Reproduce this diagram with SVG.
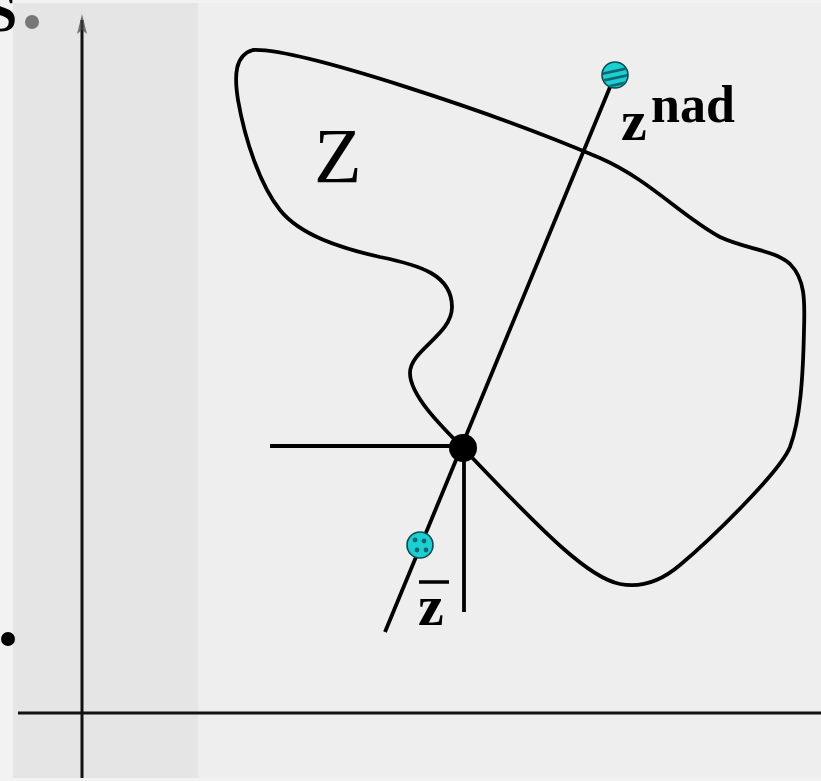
<svg xmlns="http://www.w3.org/2000/svg" width="821" height="781" viewBox="0 0 821 781">
<style>
.ax{stroke:#111;stroke-width:3;fill:none}
.ln{stroke:#000;stroke-width:3.8;fill:none;stroke-linecap:butt}
.lbl{font-family:"Liberation Serif","Times New Roman",serif;fill:#000}
.cy{fill:#1ccfd2;stroke:#0a4a50;stroke-width:1.6}
.st{stroke:#0d6670;stroke-width:2.6}
</style>
<defs>
<clipPath id="c1"><circle cx="615" cy="75" r="12"/></clipPath>
<clipPath id="c2"><circle cx="420" cy="545" r="12"/></clipPath>
</defs>
<rect x="0" y="0" width="821" height="781" fill="#f2f2f2"/>
<rect x="13" y="3" width="808" height="775" fill="#eeeeee"/>
<rect x="13" y="3" width="185" height="775" fill="#e5e5e5"/>
<g id="decor">
<text class="lbl" x="-14" y="31" font-size="56" font-weight="bold">S</text>
<circle cx="32" cy="22" r="7" fill="#777"/>
<circle cx="8" cy="639" r="7" fill="#000"/>
</g>
<g id="axes">
<line class="ax" x1="82" y1="778" x2="82" y2="20"/>
<path d="M82,14 L77,34 L82,30 L87,34 Z" fill="#444" opacity="0.7"/>
<line class="ax" x1="18" y1="713" x2="821" y2="713"/>
</g>
<g id="region-Z">
<path class="ln" d="M253,50 C300,48 500,115 600,158 C650,180 680,215 720,237 C745,249 775,250 790,264 C805,279 805,300 804,330 C803,380 800,420 790,447 C780,472 710,540 680,565 C660,582 640,588 620,584 C590,578 550,540 463,448 C440,425 410,395 410,373 C410,350 452,335 452,307 C452,275 420,265 380,257 C340,248 300,235 280,210 C260,185 245,140 238,100 C234,75 235,55 253,50 Z"/>
<text class="lbl" x="314" y="182" font-size="78">Z</text>
</g>
<g id="connectors">
<line class="ln" x1="385" y1="632" x2="615" y2="75"/>
<line class="ln" x1="270" y1="446" x2="463" y2="446"/>
<line class="ln" x1="464" y1="448" x2="464" y2="612"/>
</g>
<g id="ideal">
<circle cx="463" cy="448" r="14" fill="#000"/>
</g>
<g id="nadir">
<circle class="cy" cx="615" cy="75" r="13"/>
<g clip-path="url(#c1)">
<line class="st" x1="601" y1="74" x2="629" y2="68"/>
<line class="st" x1="601" y1="81" x2="629" y2="75"/>
<line class="st" x1="601" y1="88" x2="629" y2="82"/>
</g>
<text class="lbl" x="621" y="140" font-size="58" font-weight="bold">z</text>
<text class="lbl" x="651" y="122" font-size="52" font-weight="bold">nad</text>
</g>
<g id="zbar">
<circle class="cy" cx="420" cy="545" r="13"/>
<g clip-path="url(#c2)">
<circle cx="415" cy="540" r="2.4" fill="#0d6670"/>
<circle cx="424" cy="541" r="2.4" fill="#0d6670"/>
<circle cx="417" cy="550" r="2.4" fill="#0d6670"/>
<circle cx="426" cy="550" r="2.4" fill="#0d6670"/>
</g>
<line x1="419" y1="582" x2="449" y2="582" stroke="#000" stroke-width="3.5"/>
<text class="lbl" x="418" y="625" font-size="58" font-weight="bold">z</text>
</g>
</svg>
